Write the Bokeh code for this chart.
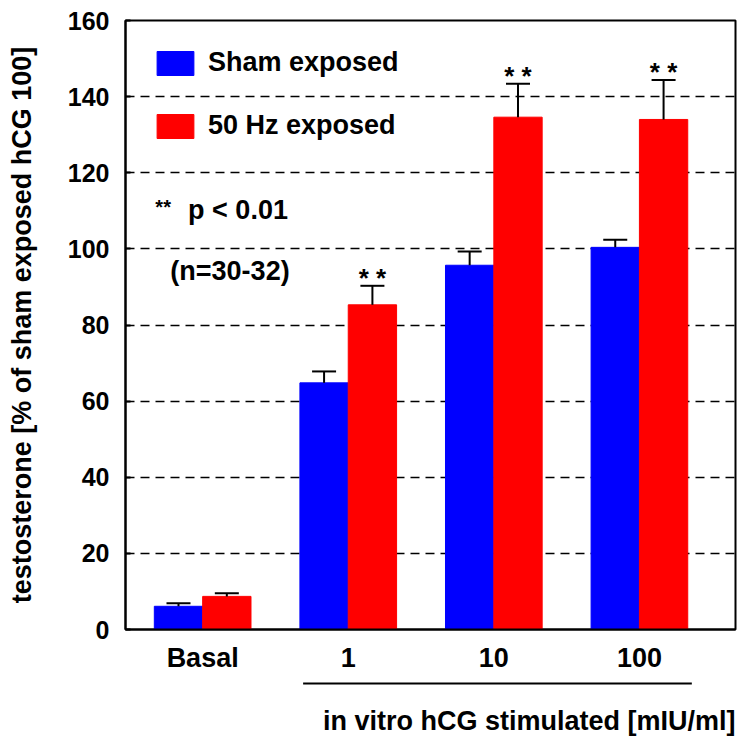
from bokeh.plotting import figure
from bokeh.layouts import column
from bokeh.models import (Range1d, FixedTicker, ColumnDataSource, Whisker, TeeHead, Label)
from bokeh.core.properties import value
from bokeh.embed import file_html
from bokeh.resources import INLINE

# ---- data ----
categories = ["Basal", "1", "10", "100"]
sham = [6.1, 64.8, 95.7, 100.4]
sham_err = [0.8, 3.0, 3.6, 2.0]
exposed = [8.7, 85.3, 134.6, 134.0]
exposed_err = [0.8, 5.0, 8.8, 10.4]
significance = ["", "* *", "* *", "* *"]
series_names = ["Sham exposed", "50 Hz exposed"]
y_ticks = [0, 20, 40, 60, 80, 100, 120, 140, 160]
y_title = "testosterone [% of sham exposed hCG 100]"
x_title = "in vitro hCG stimulated [mIU/ml]"
note_stars = "**"
note_p = "p < 0.01"
note_n = "(n=30-32)"

FONT = value("Liberation Sans")
BLUE = "#0000FF"
RED = "#FF0000"

pos = list(range(len(categories)))
half = 0.166
bw = 0.332
X_RANGE = Range1d(-0.53, 3.66)

W = 738
H1, H2 = 680, 58
ML, MR, MT, MB = 125, 3, 20, 51

p = figure(width=W, height=H1, output_backend="svg", toolbar_location=None,
           x_range=X_RANGE, y_range=Range1d(y_ticks[0], y_ticks[-1]),
           min_border_left=ML, min_border_right=MR, min_border_top=MT,
           min_border_bottom=MB, background_fill_color="white",
           border_fill_color="white")

src = ColumnDataSource(dict(
    xs=[c - half for c in pos], xe=[c + half for c in pos],
    sham=sham, exposed=exposed,
    sham_top=[v + e for v, e in zip(sham, sham_err)],
    exp_top=[v + e for v, e in zip(exposed, exposed_err)],
    sig=significance,
))

p.vbar(x="xs", top="sham", bottom=0, width=bw, source=src, fill_color=BLUE,
       line_color=BLUE, legend_label=series_names[0])
p.vbar(x="xe", top="exposed", bottom=0, width=bw, source=src, fill_color=RED,
       line_color=RED, legend_label=series_names[1])

for base, lo, hi in (("xs", "sham", "sham_top"), ("xe", "exposed", "exp_top")):
    w = Whisker(source=src, base=base, lower=lo, upper=hi, dimension="height",
                line_color="black", line_width=2, lower_head=None,
                upper_head=TeeHead(size=24, line_color="black", line_width=2),
                level="overlay")
    p.add_layout(w)

p.text(x="xe", y="exp_top", text="sig", source=src, text_font=FONT,
       text_font_style="bold", text_font_size="26px", text_align="center",
       text_baseline="alphabetic", y_offset=-8, text_color="black")

# axes
p.yaxis.ticker = FixedTicker(ticks=y_ticks)
p.yaxis.axis_label = y_title
p.yaxis.axis_label_text_font = "Liberation Sans"
p.yaxis.axis_label_text_font_style = "bold"
p.yaxis.axis_label_text_font_size = "27px"
p.yaxis.axis_label_text_color = "black"
p.yaxis.axis_label_standoff = 28
p.yaxis.major_label_text_font = "Liberation Sans"
p.yaxis.major_label_text_font_style = "bold"
p.yaxis.major_label_text_font_size = "25px"
p.yaxis.major_label_text_color = "black"
p.yaxis.major_label_standoff = 16
p.yaxis.major_tick_in = 5
p.yaxis.major_tick_out = 0
p.yaxis.minor_tick_line_color = None
p.yaxis.axis_line_width = 2
p.yaxis.major_tick_line_width = 2

p.xaxis.ticker = FixedTicker(ticks=pos)
p.xaxis.major_label_overrides = {c: lab for c, lab in zip(pos, categories)}
p.xaxis.major_label_text_font = "Liberation Sans"
p.xaxis.major_label_text_font_style = "bold"
p.xaxis.major_label_text_font_size = "27px"
p.xaxis.major_label_text_color = "black"
p.xaxis.major_label_standoff = 13
p.xaxis.major_tick_in = 0
p.xaxis.major_tick_out = 0
p.xaxis.minor_tick_line_color = None
p.xaxis.axis_line_width = 2

p.xgrid.grid_line_color = None
p.ygrid.ticker = FixedTicker(ticks=y_ticks[1:-1])
p.ygrid.grid_line_color = "black"
p.ygrid.grid_line_width = 1.6
p.ygrid.grid_line_dash = "9 6"

p.outline_line_color = "black"
p.outline_line_width = 2

# legend
lg = p.legend[0]
lg.location = "top_left"
lg.margin = 27
lg.padding = 0
lg.border_line_color = None
lg.background_fill_alpha = 0
lg.glyph_width = 46
lg.glyph_height = 30
lg.label_height = 30
lg.label_standoff = 10
lg.spacing = 32
lg.label_text_font = "Liberation Sans"
lg.label_text_font_style = "bold"
lg.label_text_font_size = "27px"
lg.label_text_color = "black"

# notes inside the plot
p.add_layout(Label(x=-0.325, y=111.0, text=note_stars, text_font="Liberation Sans",
                   text_font_style="bold", text_font_size="20px",
                   text_baseline="middle", text_color="black"))
p.add_layout(Label(x=-0.100, y=110.3, text=note_p, text_font="Liberation Sans",
                   text_font_style="bold", text_font_size="27px",
                   text_baseline="middle", text_color="black"))
p.add_layout(Label(x=-0.222, y=94.3, text=note_n, text_font="Liberation Sans",
                   text_font_style="bold", text_font_size="27px",
                   text_baseline="middle", text_color="black"))

# ---- lower strip: bracket under the stimulated groups and its caption ----
p2 = figure(width=W, height=H2, output_backend="svg", toolbar_location=None,
            x_range=X_RANGE, y_range=Range1d(0, H2),
            min_border_left=ML, min_border_right=MR, min_border_top=0,
            min_border_bottom=0, background_fill_color="white",
            border_fill_color="white")
p2.axis.visible = False
p2.grid.grid_line_color = None
p2.outline_line_color = None

bracket = ColumnDataSource(dict(x0=[pos[1] - 0.31], x1=[pos[3] + 0.36],
                                y=[H2 - 3]))
p2.segment(x0="x0", y0="y", x1="x1", y1="y", source=bracket,
           line_color="black", line_width=2)
cap = ColumnDataSource(dict(x=[X_RANGE.end], y=[H2 - 40], t=[x_title]))
p2.text(x="x", y="y", text="t", source=cap, text_font=FONT,
        text_font_style="bold", text_font_size="27px", text_align="right",
        text_baseline="middle", text_color="black")

layout = column(p, p2, spacing=0)
open("out.html", "w").write(file_html(layout, INLINE))
